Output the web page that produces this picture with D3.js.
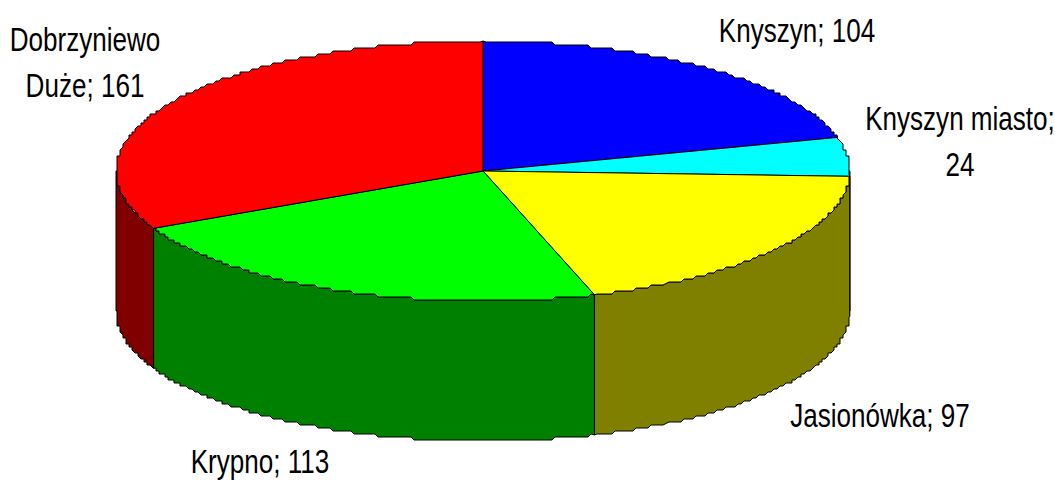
<!DOCTYPE html>
<html>
<head>
<meta charset="utf-8">
<script src="https://cdn.jsdelivr.net/npm/d3@7"></script>
<style>
  html, body { margin: 0; padding: 0; background: #fff; overflow: hidden; }
  svg { display: block; }
  text { font-family: "Liberation Sans", Arial, sans-serif; fill: #000; }
</style>
</head>
<body>
<script>
const categories = ['Knyszyn', 'Knyszyn miasto', 'Jasionówka', 'Krypno', 'Dobrzyniewo Duże'];
const values = [104, 24, 97, 113, 161];
const topColors = ['#0000ff', '#00ffff', '#ffff00', '#00ff00', '#ff0000'];
const wallColors = ['#000080', '#008080', '#808000', '#008000', '#800000'];

// where each label goes, the category name is wrapped for two of them
const labelLayout = [
  { x: 797, y: 42, split: false },
  { x: 960, y: 130, split: 'value' },
  { x: 880, y: 427, split: false },
  { x: 260, y: 473, split: false },
  { x: 85, y: 51, split: 'name' }
];

const width = 1055;
const height = 481;
const cx = 483;
const cy = 171;
const rx = 367;
const ry = 130;
const depth = 140;
const fontSize = 33;
const squeeze = 0.79; // reference text is squashed horizontally
const grid = 3; // the rim in the reference is visibly stair-stepped

const svg = d3.select('body').append('svg')
  .attr('width', width)
  .attr('height', height);

const pie = d3.pie().sort(null).value(d => d);
const slices = pie(values);

// angle 0 is at the top, clockwise, like d3.pie
const xScale = d3.scaleLinear().domain([-1, 1]).range([cx - rx, cx + rx]);
const yScale = d3.scaleLinear().domain([-1, 1]).range([cy + ry, cy - ry]);
const px = t => xScale(Math.sin(t));
const py = t => yScale(Math.cos(t));
const snap = v => Math.round(v / grid) * grid;

function rim(a, b, dy) {
  const n = Math.max(2, Math.ceil((b - a) / 0.01));
  return d3.range(n + 1).map(i => {
    const t = a + (b - a) * i / n;
    // keep the slice corners exact so the walls meet the top
    if (i === 0 || i === n) return [px(t), py(t) + dy];
    return [snap(px(t)), snap(py(t)) + dy];
  });
}

const line = d3.line();

// side walls, only the front half of the disc can be seen
const walls = svg.append('g');
slices.forEach((s, i) => {
  const a = Math.max(s.startAngle, Math.PI / 2);
  const b = Math.min(s.endAngle, Math.PI * 1.5);
  if (b <= a) return;
  const pts = rim(a, b, 0).concat(rim(a, b, depth).reverse());
  walls.append('path')
    .attr('d', line(pts) + 'Z')
    .attr('fill', wallColors[i])
    .attr('stroke', '#000')
    .attr('stroke-width', 1);
});

// top of the disc
svg.append('g')
  .selectAll('path')
  .data(slices)
  .enter()
  .append('path')
  .attr('d', d => line([[cx, cy]].concat(rim(d.startAngle, d.endAngle, 0))) + 'Z')
  .attr('fill', (d, i) => topColors[i])
  .attr('stroke', '#000')
  .attr('stroke-width', 1);

function labelLines(i) {
  const name = categories[i];
  const layout = labelLayout[i];
  if (layout.split === 'name') {
    const parts = name.split(' ');
    return [parts[0], parts[1] + '; ' + values[i]];
  }
  if (layout.split === 'value') {
    return [name + ';', String(values[i])];
  }
  return [name + '; ' + values[i]];
}

const lineGap = 46;
categories.forEach((c, i) => {
  const layout = labelLayout[i];
  const g = svg.append('g')
    .attr('transform', 'translate(' + layout.x + ',' + layout.y + ') scale(' + squeeze + ',1)');
  labelLines(i).forEach((txt, j) => {
    g.append('text')
      .attr('y', j * lineGap)
      .attr('text-anchor', 'middle')
      .attr('font-size', fontSize)
      .text(txt);
  });
});
</script>
</body>
</html>
